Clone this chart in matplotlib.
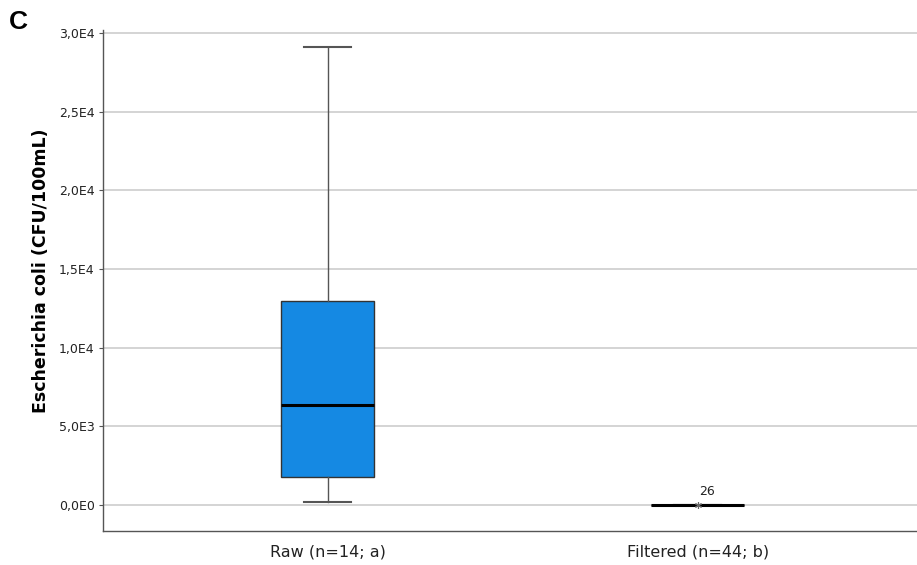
import matplotlib
matplotlib.use("Agg")
import matplotlib.pyplot as plt
from matplotlib.ticker import FixedLocator

# Box summary per sample group (CFU/100mL)
categories = ["Raw (n=14; a)", "Filtered (n=44; b)"]
whisker_low = [200, 0]
q1 = [1800, 0]
medians = [6350, 0]
q3 = [13000, 0]
whisker_high = [29100, 0]
outliers = [[], [0]]
outlier_ids = [[], ["26"]]

y_ticks = [0, 5000, 10000, 15000, 20000, 25000, 30000]
y_tick_labels = ["0,0E0", "5,0E3", "1,0E4", "1,5E4", "2,0E4", "2,5E4", "3,0E4"]

fig = plt.figure(figsize=(9.17, 5.65), dpi=100)
ax = fig.add_axes([0.1123, 0.0602, 0.8877, 0.8867])

positions = [1, 2]
stats = []
for i, name in enumerate(categories):
    stats.append(dict(label=name, whislo=whisker_low[i], q1=q1[i], med=medians[i],
                      q3=q3[i], whishi=whisker_high[i], fliers=[]))

ax.set_ylim(-1650, 30200)
ax.set_xlim(0.393, 2.593)

for y in y_ticks:
    ax.axhline(y, color="#d4d4d4", lw=1.4, zorder=0)

ax.bxp(stats, positions=positions, widths=0.25, patch_artist=True, showfliers=False,
       boxprops=dict(facecolor="#1589e3", edgecolor="#333333", lw=1.0),
       medianprops=dict(color="black", lw=2.2),
       whiskerprops=dict(color="#555555", lw=1.0),
       capprops=dict(color="#555555", lw=1.5),
       capwidths=0.125, zorder=3)

for pos, pts, ids in zip(positions, outliers, outlier_ids):
    for v, lab in zip(pts, ids):
        ax.plot(pos, v, marker=(6, 2, 0), ms=5, color="#666666", mew=0.8, zorder=4)
        ax.annotate(lab, (pos, v), xytext=(1, 7), textcoords="offset points",
                    fontsize=9, color="#222222")

ax.yaxis.set_major_locator(FixedLocator(y_ticks))
ax.set_yticklabels(y_tick_labels, fontsize=9, color="#222222")
ax.set_xticks(positions)
ax.set_xticklabels(categories, fontsize=11.5, color="#222222")
ax.tick_params(axis="y", length=3, width=0.8, color="#555555", pad=3)
ax.tick_params(axis="x", length=0, pad=10)

for side in ("top", "right"):
    ax.spines[side].set_visible(False)
for side in ("left", "bottom"):
    ax.spines[side].set_color("#555555")
    ax.spines[side].set_linewidth(1.0)

ax.set_ylabel("Escherichia coli (CFU/100mL)", fontsize=12.5, fontweight="bold",
              labelpad=6, y=0.52)

fig.text(0.010, 0.982, "C", fontsize=19, fontweight="bold", family="Liberation Sans",
         va="top", ha="left")

fig.savefig("out.png", dpi=100)
